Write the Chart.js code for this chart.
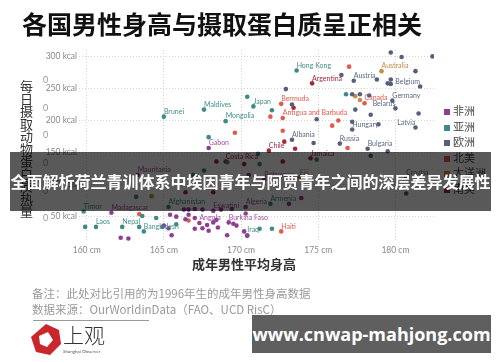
<!DOCTYPE html>
<html>
<head>
<meta charset="utf-8">
<script src="https://cdn.jsdelivr.net/npm/chart.js@4.4.0/dist/chart.umd.min.js"></script>
<style>
  body { margin: 0; background: #fff; }
  #wrap { position: relative; width: 500px; height: 362px; overflow: hidden; font-family: "Noto Sans CJK SC", sans-serif; }
  canvas { position: absolute; left: 0; top: 0; }
  .abs { position: absolute; white-space: nowrap; }
  #title { left: 22px; top: 9px; font-size: 25px; line-height: 28px; font-weight: 700; color: #111; }
  #ytitle { left: 20px; top: 80px; font-size: 13px; line-height: 13px; color: #333; writing-mode: vertical-rl; letter-spacing: -0.5px; }
  #xtitle { left: 192px; top: 255px; font-size: 13px; line-height: 18px; font-weight: 700; color: #333; }
  .zero { font-family: Lato, sans-serif; font-size: 9px; color: #999; left: 43px; }
  #legend { left: 444px; top: 103px; font-size: 11px; color: #444; }
  #legend div { height: 15.5px; line-height: 15.5px; }
  #legend span { display: inline-block; width: 6px; height: 6px; margin-right: 3px; vertical-align: 0px; }
  .note { left: 32px; font-size: 11.5px; color: #9a9a9a; line-height: 16px; }
  #rule { left: 33px; top: 320px; width: 116px; height: 1px; background: #999; }
  #banner { left: 10px; top: 152px; width: 481px; height: 59px; background: rgba(0,0,0,0.65); color: #fff; font-size: 16px; font-weight: 700; line-height: 59px; text-align: center; }
  #site { left: 252px; top: 315px; width: 239px; height: 38px; background: #5f5f5f; color: #fff; font-family: "Open Sans", sans-serif; font-size: 18px; font-weight: 700; line-height: 38px; text-align: center; }
</style>
</head>
<body>
<div id="wrap">
  <canvas id="myChart" width="500" height="362"></canvas>
  <div class="abs" id="title">各国男性身高与摄取蛋白质呈正相关</div>
  <div class="abs" id="ytitle">每日摄取动物蛋白质热量</div>
  <div class="abs" id="xtitle">成年男性平均身高</div>
  <div class="abs" id="legend"></div>
  <div id="zeros"></div>
  <div class="abs" id="banner">全面解析荷兰青训体系中埃因青年与阿贾青年之间的深层差异发展性</div>
  <div class="abs note" style="top:285px">备注：此处对比引用的为1996年生的成年男性身高数据</div>
  <div class="abs note" style="top:301px">数据来源：OurWorldinData（FAO、UCD RisC）</div>
  <div class="abs" id="rule"></div>
  <svg class="abs" style="left:28px;top:322px" width="90" height="36">
    <polygon points="18,2 31,8 33,22 22,33 8,30 3,15" fill="#c8282b"/>
    <polygon points="20,10 25,18 19,25 12,22 11,14" fill="#fff"/>
    <text x="35" y="21" font-size="21" font-family="Noto Sans CJK SC" font-weight="300" fill="#333">上观</text>
    <text x="35" y="31" font-size="4.5" font-family="Lato" fill="#555">Shanghai Observer</text>
  </svg>
  <div class="abs" id="site">www.cnwap-mahjong.com</div>
</div>
<script>
// 非洲
const africaHeight = [167.9, 163.3, 170.5, 171.5, 173.9, 170.3, 173.1, 168.2, 161.6, 169.2, 170.3, 167.3, 165.4, 165.8, 166.6, 167.0, 166.4, 165.0, 165.3, 165.5, 167.0, 167.5, 167.8, 167.9, 168.2, 168.5, 168.4, 169.1, 169.5, 169.7, 170.2, 170.4, 162.2, 162.7, 166.3, 167.0, 167.5, 168.7, 169.4, 166.6];
const africaProtein = [157, 115, 115, 108, 79, 65, 70, 59, 56, 41, 55, 40, 53, 50, 53, 48, 46, 36, 32, 21, 31, 32, 37, 28, 41, 33, 45, 21, 39, 36, 27, 20, 17, 16, 61, 62, 61, 61, 62, 61];
const africaNames = ['Gabon', 'Mauritania', '', 'Botswana', '', 'Algeria', '', 'Eswatini', 'Madagascar', 'Burkina Faso', '', 'Angola'];

// 亚洲
const asiaHeight = [165.0, 167.6, 169.0, 167.9, 170.4, 170.8, 172.0, 173.6, 176.8, 169.1, 171.1, 171.2, 174.9, 167.6, 166.9, 163.2, 159.8, 159.9, 160.6, 162.3, 163.4, 163.6, 164.5, 163.7, 164.9, 165.3, 171.9, 170.4, 171.2, 172.0, 165.8];
const asiaProtein = [206, 217, 199, 174, 237, 222, 216, 278, 241, 135, 148, 132, 139, 122, 115, 81, 58, 34, 34, 34, 34, 51, 48, 27, 34, 65, 70, 21, 31, 31, 38];
const asiaNames = ['Brunei', 'Maldives', 'Mongolia', '', '', 'Japan', '', 'Hong Kong', '', '', '', '', '', '', '', '', 'Timor', '', 'Laos', 'Nepal', '', '', '', 'Bangladesh', '', 'Afghanistan', 'Armenia', 'Iraq'];

// 欧洲
const europeHeight = [179.7, 180.4, 182.4, 176.5, 177.3, 178.8, 179.7, 179.5, 179.7, 181.3, 181.6, 172.9, 173.3, 177.2, 177.7, 178.3, 179.8, 180.0, 177.4, 178.4, 181.5, 174.9, 177.2, 177.2, 178.9, 181.3, 173.3, 174.7, 176.4, 178.2, 179.5, 178.4, 180.7, 180.7];
const europeProtein = [306, 299, 300, 271, 262, 264, 264, 258, 257, 277, 253, 249, 225, 241, 241, 239, 231, 219, 217, 209, 211, 202, 198, 186, 194, 189, 170, 165, 164, 156, 152, 145, 111, 86];
const europeNames = ['', '', '', '', 'Austria', '', '', '', '', '', 'Belgium', '', '', '', '', '', 'Germany', 'Belarus', '', '', '', '', '', 'Hungary', '', 'Latvia', 'Albania', '', 'Russia', 'Bulgaria', '', '', 'Croatia'];

// 北美
const northAmHeight = [177.0, 178.0, 172.6, 172.7, 171.9, 176.3, 175.9, 169.6, 172.7, 176.9, 166.6, 163.4, 172.6];
const northAmProtein = [284, 227, 226, 204, 206, 200, 192, 181, 184, 157, 44, 54, 27];
const northAmNames = ['', 'Canada', 'Bermuda', 'Antigua and Barbuda', '', '', '', '', '', '', '', '', 'Haiti'];

// 大洋洲
const oceaniaHeight = [179.1, 177.4, 177.7, 173.8, 164.2];
const oceaniaProtein = [277, 238, 232, 111, 82];
const oceaniaNames = ['Australia', '', '', 'Fiji', ''];

// 南美
const southAmHeight = [174.6, 173.4, 172.8, 173.5, 171.8, 169.0, 168.4, 170.2, 172.7, 174.5, 166.4, 168.2];
const southAmProtein = [258, 220, 167, 156, 153, 136, 136, 132, 136, 141, 88, 88];
const southAmNames = ['Argentina', '', '', '', 'Chile', 'Costa Rica', '', '', '', 'Jamaica', '', ''];

const xTicks = [160, 165, 170, 175, 180];
const yTicks = [50, 100, 150, 200, 250, 300];
const legendNames = ['非洲', '亚洲', '欧洲', '北美', '大洋洲', '南美'];
const colors = ['#8f3f93', '#3d8a86', '#56607e', '#e4584d', '#c98a4b', '#a3293c'];
const labelColors = ['#9b4f9d', '#3f8e8a', '#5d6682', '#e4584d', '#c8894c', '#a3293c'];

// labels that sit to the left of their point
const endLabels = ['Belgium', 'Latvia', 'Belarus'];

function pts(xs, ys) {
  return xs.map((x, i) => ({ x: x, y: ys[i] }));
}

const series = [
  [africaHeight, africaProtein, africaNames],
  [asiaHeight, asiaProtein, asiaNames],
  [europeHeight, europeProtein, europeNames],
  [northAmHeight, northAmProtein, northAmNames],
  [oceaniaHeight, oceaniaProtein, oceaniaNames],
  [southAmHeight, southAmProtein, southAmNames]
];

const datasets = series.map((s, i) => ({
  label: legendNames[i],
  data: pts(s[0], s[1]),
  names: s[2],
  labelColor: labelColors[i],
  backgroundColor: colors[i],
  borderWidth: 0,
  pointRadius: 2.3,
  pointHoverRadius: 2.3
}));

const pointNames = {
  id: 'pointNames',
  afterDatasetsDraw(chart) {
    const ctx = chart.ctx;
    ctx.save();
    ctx.font = '7px Lato';
    ctx.textBaseline = 'middle';
    chart.data.datasets.forEach((ds, i) => {
      const meta = chart.getDatasetMeta(i);
      ctx.fillStyle = ds.labelColor;
      meta.data.forEach((pt, j) => {
        const name = ds.names[j];
        if (!name) return;
        ctx.textAlign = endLabels.includes(name) ? 'right' : 'left';
        ctx.fillText(name, pt.x, pt.y - 5);
      });
    });
    ctx.restore();
  }
};

// legend
let legend = document.getElementById('legend');
legendNames.forEach((n, i) => {
  let d = document.createElement('div');
  d.innerHTML = '<span style="background:' + colors[i] + '"></span>' + n;
  legend.appendChild(d);
});

// stray "0" labels on the left
const zeroTops = [74, 102, 129, 157, 184.5, 212];
let zeros = document.getElementById('zeros');
zeroTops.forEach(t => {
  let s = document.createElement('div');
  s.className = 'abs zero';
  s.style.top = t + 'px';
  s.textContent = '0';
  zeros.appendChild(s);
});

const ctx = document.getElementById('myChart').getContext('2d');
new Chart(ctx, {
  type: 'scatter',
  data: { datasets: datasets },
  options: {
    responsive: false,
    animation: false,
    events: [],
    layout: { padding: { left: 39, right: 66, top: 50, bottom: 101 } },
    plugins: { legend: { display: false }, tooltip: { enabled: false } },
    scales: {
      x: {
        min: 159.5,
        max: 182.5,
        afterBuildTicks: s => { s.ticks = xTicks.map(v => ({ value: v })); },
        afterFit: s => { s.height = 20; },
        grid: { color: '#d4d4d4', drawTicks: false },
        border: { display: false, dash: [1, 2] },
        ticks: {
          padding: 4,
          color: '#888',
          font: { family: 'Lato', size: 8.5 },
          callback: v => v + ' cm'
        }
      },
      y: {
        min: 12,
        max: 310,
        afterBuildTicks: s => { s.ticks = yTicks.map(v => ({ value: v })); },
        afterFit: s => { s.width = 40; },
        grid: { color: '#d4d4d4', drawTicks: false },
        border: { display: false, dash: [1, 2] },
        ticks: {
          padding: 2,
          color: '#888',
          font: { family: 'Lato', size: 8.5 },
          callback: v => v + ' kcal'
        }
      }
    }
  },
  plugins: [pointNames]
});
</script>
</body>
</html>
